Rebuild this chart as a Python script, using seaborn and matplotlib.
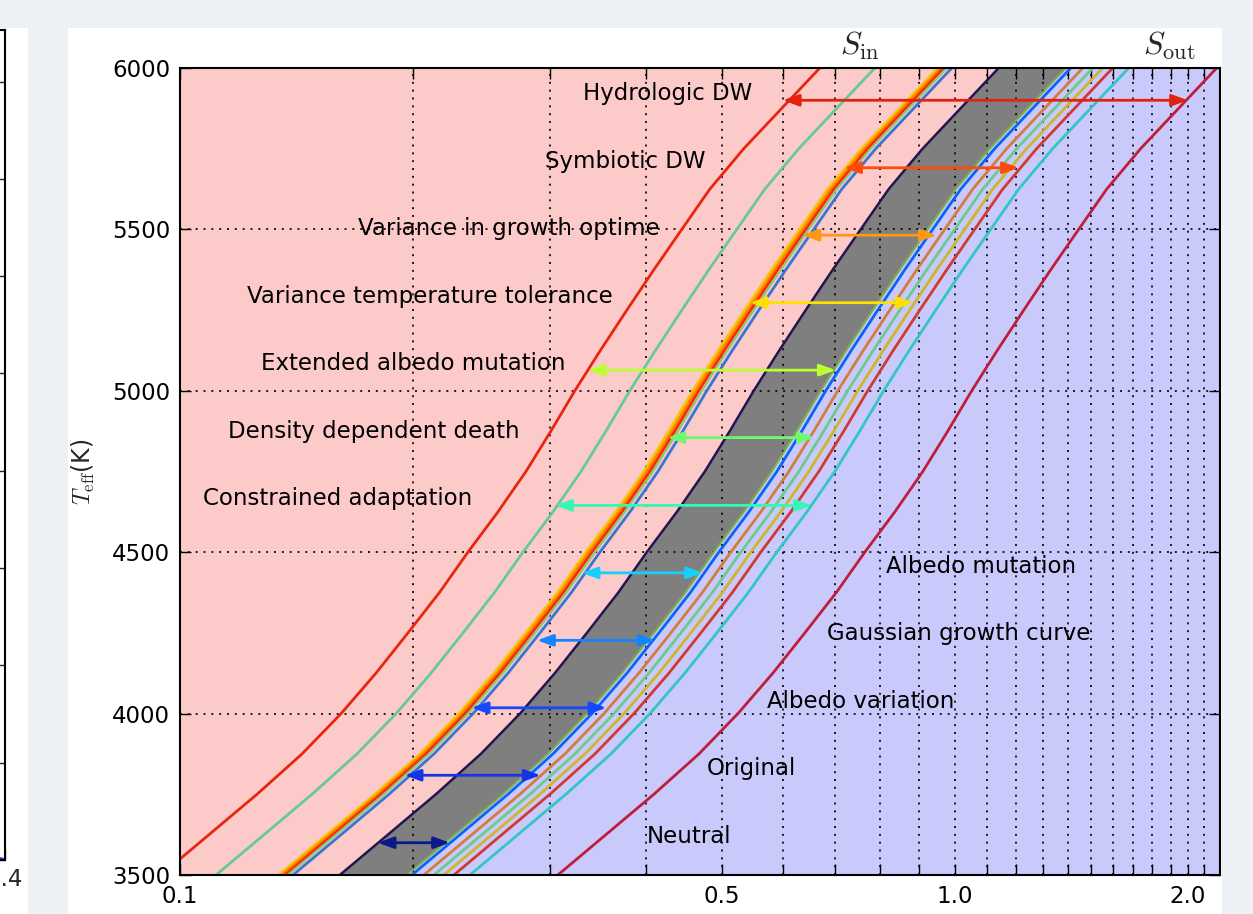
import numpy as np
import pandas as pd
import matplotlib
matplotlib.use("Agg")
import matplotlib.pyplot as plt
import matplotlib.transforms as mtransforms
from matplotlib.patches import Rectangle
from matplotlib.ticker import FixedLocator, FixedFormatter, NullLocator
import seaborn as sns

# ------------------------------------------------------------------ data
T_EFF = [3500, 3625, 3750, 3875, 4000, 4125, 4250, 4375, 4500, 4625, 4750,
         4875, 5000, 5125, 5250, 5375, 5500, 5625, 5750, 5875, 6000]

# inner-edge (S_in) curves
S_RED_IN    = [0.0945, 0.1090, 0.1257, 0.1437, 0.1614, 0.1790, 0.1969, 0.2162, 0.2353, 0.2573, 0.2796,
               0.3011, 0.3233, 0.3488, 0.3774, 0.4089, 0.4443, 0.4830, 0.5341, 0.5980, 0.6697]
S_TEAL_IN   = [0.1113, 0.1284, 0.1480, 0.1692, 0.1901, 0.2108, 0.2319, 0.2546, 0.2771, 0.3030, 0.3293,
               0.3546, 0.3807, 0.4108, 0.4444, 0.4815, 0.5232, 0.5688, 0.6290, 0.7042, 0.7886]
S_YELLOW_IN = [0.1342, 0.1548, 0.1785, 0.2041, 0.2292, 0.2542, 0.2796, 0.3071, 0.3342, 0.3654, 0.3971,
               0.4276, 0.4592, 0.4954, 0.5360, 0.5807, 0.6310, 0.6860, 0.7585, 0.8493, 0.9511]
S_ORANGE_IN = [0.1354, 0.1562, 0.1801, 0.2059, 0.2313, 0.2565, 0.2821, 0.3098, 0.3372, 0.3687, 0.4006,
               0.4315, 0.4633, 0.4998, 0.5408, 0.5859, 0.6366, 0.6921, 0.7654, 0.8569, 0.9596]
S_RED2_IN   = [0.1366, 0.1576, 0.1817, 0.2077, 0.2333, 0.2587, 0.2846, 0.3125, 0.3401, 0.3719, 0.4041,
               0.4352, 0.4673, 0.5042, 0.5455, 0.5910, 0.6422, 0.6981, 0.7720, 0.8644, 0.9680]
S_GREEN_IN  = [0.1378, 0.1590, 0.1833, 0.2096, 0.2354, 0.2611, 0.2872, 0.3153, 0.3432, 0.3753, 0.4078,
               0.4391, 0.4715, 0.5087, 0.5504, 0.5963, 0.6480, 0.7044, 0.7790, 0.8721, 0.9767]
S_BLUE_IN   = [0.1399, 0.1614, 0.1861, 0.2127, 0.2389, 0.2650, 0.2915, 0.3200, 0.3483, 0.3809, 0.4139,
               0.4457, 0.4786, 0.5163, 0.5587, 0.6053, 0.6577, 0.7150, 0.7907, 0.8852, 0.9914]
# neutral band edges
S_NEUTRAL_IN  = [0.1608, 0.1855, 0.2139, 0.2445, 0.2747, 0.3046, 0.3351, 0.3679, 0.4004, 0.4379, 0.4758,
                 0.5124, 0.5502, 0.5936, 0.6422, 0.6958, 0.7561, 0.8219, 0.9089, 1.0176, 1.1396]
S_NEUTRAL_OUT = [0.1963, 0.2264, 0.2611, 0.2985, 0.3352, 0.3718, 0.4090, 0.4491, 0.4887, 0.5344, 0.5807,
                 0.6254, 0.6715, 0.7245, 0.7839, 0.8493, 0.9228, 1.0032, 1.1094, 1.2421, 1.3910]
# outer-edge (S_out) curves
S_BLUE_OUT    = [0.1992, 0.2298, 0.2650, 0.3029, 0.3402, 0.3774, 0.4151, 0.4558, 0.4960, 0.5424, 0.5894,
                 0.6348, 0.6815, 0.7353, 0.7956, 0.8620, 0.9366, 1.0182, 1.1259, 1.2606, 1.4118]
S_BROWN_OUT   = [0.2064, 0.2381, 0.2746, 0.3139, 0.3526, 0.3910, 0.4301, 0.4723, 0.5140, 0.5621, 0.6108,
                 0.6578, 0.7063, 0.7620, 0.8245, 0.8933, 0.9706, 1.0552, 1.1668, 1.3064, 1.4630]
S_GREEN_OUT   = [0.2127, 0.2453, 0.2829, 0.3234, 0.3632, 0.4028, 0.4431, 0.4866, 0.5295, 0.5791, 0.6292,
                 0.6776, 0.7276, 0.7850, 0.8493, 0.9202, 0.9999, 1.0870, 1.2020, 1.3458, 1.5072]
S_GOLD_OUT    = [0.2191, 0.2527, 0.2914, 0.3331, 0.3742, 0.4150, 0.4565, 0.5012, 0.5455, 0.5965, 0.6482,
                 0.6980, 0.7495, 0.8086, 0.8749, 0.9480, 1.0300, 1.1197, 1.2382, 1.3863, 1.5526]
S_RED_OUT     = [0.2257, 0.2603, 0.3002, 0.3432, 0.3854, 0.4275, 0.4702, 0.5163, 0.5619, 0.6144, 0.6677,
                 0.7190, 0.7720, 0.8329, 0.9012, 0.9765, 1.0610, 1.1534, 1.2755, 1.4280, 1.5993]
S_CYAN_OUT    = [0.2367, 0.2730, 0.3148, 0.3599, 0.4042, 0.4483, 0.4931, 0.5414, 0.5893, 0.6444, 0.7002,
                 0.7540, 0.8096, 0.8735, 0.9451, 1.0240, 1.1127, 1.2096, 1.3376, 1.4976, 1.6771]
S_CRIMSON_OUT = [0.3074, 0.3546, 0.4089, 0.4675, 0.5250, 0.5823, 0.6405, 0.7033, 0.7654, 0.8370, 0.9095,
                 0.9795, 1.0517, 1.1347, 1.2277, 1.3302, 1.4453, 1.5712, 1.7374, 1.9453, 2.1785]

# habitable-range arrows (bottom to top)
ARROW_LABELS = ["Neutral", "Original", "Albedo variation", "Gaussian growth curve",
                "Albedo mutation", "Constrained adaptation", "Density dependent death",
                "Extended albedo mutation", "Variance temperature tolerance",
                "Variance in growth optime", "Symbiotic DW", "Hydrologic DW"]
ARROW_T    = [3600, 3809, 4018, 4227, 4436, 4645, 4855, 5064, 5273, 5482, 5691, 5900]
ARROW_S_LO = [0.180, 0.195, 0.238, 0.289, 0.330, 0.305, 0.426, 0.336, 0.544, 0.636, 0.720, 0.600]
ARROW_S_HI = [0.223, 0.292, 0.355, 0.411, 0.473, 0.654, 0.660, 0.702, 0.885, 0.948, 1.210, 2.000]
LABEL_S    = [0.4538, 0.5464, 0.7562, 1.0120, 1.0818, 0.1599, 0.1777, 0.2001, 0.2099,
              0.2654, 0.3756, 0.4256]
ARROW_COLORS = ['#0a188c', '#1434e6', '#1448ff', '#1484ff', '#14d0fa', '#34f8b4',
                '#70f870', '#bcff30', '#ffe000', '#ff9614', '#ff4a0a', '#e42010']

X_LIM = [0.1, 2.2]
Y_LIM = [3500, 6000]
X_TICKS = [0.1, 0.2, 0.3, 0.4, 0.5, 0.6, 0.7, 0.8, 0.9, 1.0, 1.1, 1.2, 1.3, 1.4,
           1.5, 1.6, 1.7, 1.8, 1.9, 2.0, 2.1]
X_TICK_LABELS = ['0.1', '', '', '', '0.5', '', '', '', '', '1.0', '', '', '', '',
                 '', '', '', '', '', '2.0', '']
Y_TICKS = [3500, 4000, 4500, 5000, 5500, 6000]
S_IN_POS = 0.754
S_OUT_POS = 1.894

# neighbouring (cropped) panel on the left
LEFT_X = [0.385, 0.400]
LEFT_Y = [0.06, 0.0]

# ------------------------------------------------------------------ style
sns.set_style("ticks")
plt.rcParams['font.family'] = ['DejaVu Sans']
plt.rcParams['mathtext.fontset'] = 'cm'

PAGE_BG = '#edf0f5'
PINK = '#fdcaca'
GRAY = '#7f7f7f'
LAVENDER = '#c9c9fb'

curve_specs = [
    (S_RED_IN, '#e8260f', 2.0),
    (S_TEAL_IN, '#66c99a', 2.0),
    (S_YELLOW_IN, '#f8c400', 2.0),
    (S_ORANGE_IN, '#ff8200', 2.0),
    (S_RED2_IN, '#ff2a00', 2.0),
    (S_GREEN_IN, '#82cc7c', 1.6),
    (S_BLUE_IN, '#3a74d4', 2.0),
    (S_NEUTRAL_IN, '#241452', 1.8),
    (S_NEUTRAL_OUT, '#7db04a', 1.5),
    (S_BLUE_OUT, '#0a64f5', 2.0),
    (S_BROWN_OUT, '#d27d3c', 2.0),
    (S_GREEN_OUT, '#6acb8c', 2.0),
    (S_GOLD_OUT, '#ccb62a', 2.0),
    (S_RED_OUT, '#d03a30', 2.0),
    (S_CYAN_OUT, '#33c6c6', 2.0),
    (S_CRIMSON_OUT, '#be1e3c', 2.0),
]

W, H = 1253, 914
fig = plt.figure(figsize=(W / 100, H / 100), dpi=100, facecolor=PAGE_BG)

# white panels
fig.patches.append(Rectangle((68 / W, 0), (1222 - 68) / W, (H - 28) / H,
                             transform=fig.transFigure, facecolor='white',
                             edgecolor='none', zorder=-10))
fig.patches.append(Rectangle((0, 0), 28 / W, (H - 28) / H,
                             transform=fig.transFigure, facecolor='white',
                             edgecolor='none', zorder=-10))

# ---------------------------------------------------------- left cropped panel
ax0 = fig.add_axes([-0.5, (H - 860) / H, 0.5 + 5 / W, (860 - 30) / H])
ax0.set_facecolor('white')
sns.lineplot(x=LEFT_X, y=LEFT_Y, ax=ax0, color='#1f3fff', linewidth=2.5,
             sort=False, estimator=None)
ax0.set_xlim(0, 0.4)
ax0.set_ylim(0, 8.53)
ax0.set_xticks([0.4])
ax0.set_xticklabels(['0.4'])
ax0.set_yticks(range(9))
ax0.set_yticklabels([])
ax0.tick_params(axis='both', direction='in', right=True, left=False,
                labelsize=16.5, length=8, width=1, pad=6)
for sp in ax0.spines.values():
    sp.set_linewidth(1.5)
    sp.set_color('black')

# ---------------------------------------------------------- main axes
ax = fig.add_axes([180 / W, (H - 875) / H, 1040 / W, 807 / H])
ax.set_facecolor('white')
ax.set_xscale('log')

ax.fill_betweenx(T_EFF, X_LIM[0], S_NEUTRAL_IN, color=PINK, lw=0, zorder=0.5)
ax.fill_betweenx(T_EFF, S_NEUTRAL_IN, S_NEUTRAL_OUT, color=GRAY, lw=0, zorder=0.5)
ax.fill_betweenx(T_EFF, S_NEUTRAL_OUT, X_LIM[1], color=LAVENDER, lw=0, zorder=0.5)

for s_vals, col, lw in curve_specs:
    sns.lineplot(x=s_vals, y=T_EFF, ax=ax, color=col, linewidth=lw,
                 sort=False, estimator=None, zorder=3)

for lab, t, lo, hi, xs, col in zip(ARROW_LABELS, ARROW_T, ARROW_S_LO, ARROW_S_HI,
                                   LABEL_S, ARROW_COLORS):
    ax.annotate('', xy=(hi, t), xytext=(lo, t),
                arrowprops=dict(arrowstyle='<|-|>,head_length=0.6,head_width=0.22',
                                mutation_scale=16, color=col, lw=2.0,
                                shrinkA=0, shrinkB=0),
                zorder=5)
    ax.text(xs, t, lab, ha='center', va='baseline', fontsize=16.5,
            color='black', zorder=6)

ax.set_xlim(*X_LIM)
ax.set_ylim(*Y_LIM)
ax.xaxis.set_major_locator(FixedLocator(X_TICKS))
ax.xaxis.set_major_formatter(FixedFormatter(X_TICK_LABELS))
ax.xaxis.set_minor_locator(NullLocator())
ax.set_yticks(Y_TICKS)
ax.set_yticklabels([str(v) for v in Y_TICKS])

ax.set_axisbelow('line')
ax.grid(True, which='major', color='black', linestyle=(0, (1.2, 3.5)),
        linewidth=1.2, zorder=1.5)
ax.tick_params(which='both', direction='in', top=True, right=True,
               length=8, width=1, labelsize=16.5, pad=7, colors='black')
for sp in ax.spines.values():
    sp.set_linewidth(1.5)
    sp.set_color('black')
    sp.set_zorder(10)

ax.set_xlabel('')
ax.set_ylabel(r'$T_{\rm eff}$(K)', fontsize=17)
ax.yaxis.set_label_coords(-0.08, 0.5)

trans = mtransforms.blended_transform_factory(ax.transData, ax.transAxes)
ax.text(S_IN_POS, 1.007, r'$S_{\rm in}$', transform=trans, ha='center',
        va='bottom', fontsize=23)
ax.text(S_OUT_POS, 1.007, r'$S_{\rm out}$', transform=trans, ha='center',
        va='bottom', fontsize=23)

fig.savefig('out.png', dpi=100, facecolor=PAGE_BG)
